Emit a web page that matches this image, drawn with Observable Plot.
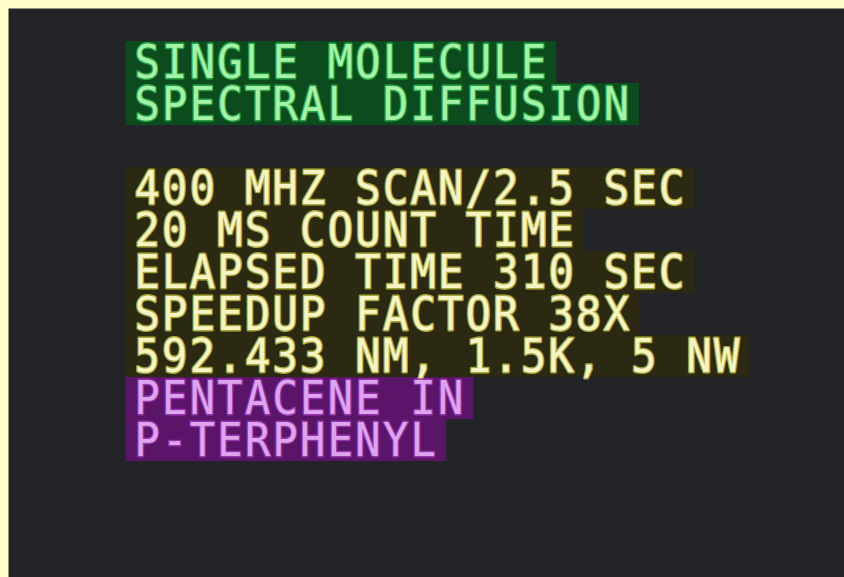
<!DOCTYPE html>
<html>
<head>
<meta charset="utf-8">
<script src="https://cdn.jsdelivr.net/npm/d3@7"></script>
<script src="https://cdn.jsdelivr.net/npm/@observablehq/plot@0.6"></script>
<style>
  html, body { margin: 0; padding: 0; background: #ffffcc; }
  #chart { width: 844px; height: 577px; }
</style>
</head>
<body>
<div id="chart"></div>
<script>
// Text lines of the caption screen, their row numbers and colour groups
const lines = [
  "SINGLE MOLECULE",
  "SPECTRAL DIFFUSION",
  "400 MHZ SCAN/2.5 SEC",
  "20 MS COUNT TIME",
  "ELAPSED TIME 310 SEC",
  "SPEEDUP FACTOR 38X",
  "592.433 NM, 1.5K, 5 NW",
  "PENTACENE IN",
  "P-TERPHENYL"
];
const rows = [0, 1, 3, 4, 5, 6, 7, 8, 9];
const groups = ["title", "title", "params", "params", "params", "params", "params", "sample", "sample"];

const textFill = {title: "#a4f2a8", params: "#f6f4c4", sample: "#dea4ee"};
const textGlow = {title: "#30c050", params: "#cfcf48", sample: "#a840c4"};
const boxFill = {title: "#0c4b1e", params: "#2b2912", sample: "#5a1468"};

const data = lines.map((t, i) => ({text: t, row: rows[i], group: groups[i], len: t.length}));

const chart = Plot.plot({
  width: 844,
  height: 577,
  marginLeft: 8,
  marginTop: 8,
  marginRight: 0,
  marginBottom: 0,
  x: {domain: [0, 22], range: [134, 134 + 22 * 27.6], axis: null},
  y: {domain: [0, 9], range: [62, 440], axis: null},
  style: {background: "transparent", overflow: "visible"},
  marks: [
    Plot.frame({fill: "#232428", stroke: null}),
    Plot.rect(data, {
      x1: () => -0.32,
      x2: d => d.len + 0.3,
      y1: d => d.row - 0.5,
      y2: d => d.row + 0.5,
      fill: d => boxFill[d.group],
      inset: 0
    }),
    Plot.text(data, {
      x: () => 0,
      y: "row",
      text: "text",
      textAnchor: "start",
      fontFamily: "DejaVu Sans Mono",
      fontSize: 42,
      fill: d => textFill[d.group],
      stroke: d => textGlow[d.group],
      strokeWidth: 2.6,
      strokeOpacity: 0.75,
      render(index, scales, values, dimensions, context, next) {
        const g = next(index, scales, values, dimensions, context);
        g.querySelectorAll("text").forEach(t => {
          t.setAttribute("letter-spacing", "2.32");
          const tr = t.getAttribute("transform");
          if (tr) t.setAttribute("transform", tr + " scale(1,1.12)");
        });
        return g;
      }
    })
  ]
});
document.getElementById("chart").appendChild(chart);
</script>
</body>
</html>
